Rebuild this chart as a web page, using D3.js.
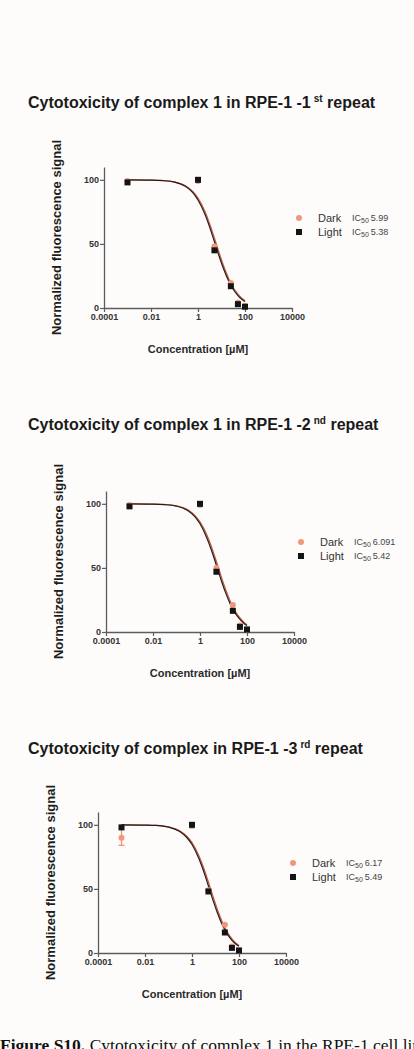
<!DOCTYPE html>
<html>
<head>
<meta charset="utf-8">
<script src="https://cdn.jsdelivr.net/npm/d3@7"></script>
<style>
  html, body { margin: 0; padding: 0; background: #fdfcfa; }
  svg { display: block; }
</style>
</head>
<body>
<div id="chart"></div>
<script>
// Measured concentrations (µM) and normalized signals per repeat
const concentrations = [0.001, 1, 5, 25, 50, 100];

const lightRep1 = [98, 100, 45, 17, 3, 1];
const darkRep1  = [99, 99, 48, 19.5, 4, 1.5];
const lightRep2 = [98, 100, 47, 16.5, 4, 2];
const darkRep2  = [99, 99, 50, 21, 5, 2];
const lightRep3 = [98, 100, 48, 16, 4, 2];
const darkRep3  = [90, 99, 49, 22, 5, 2];
const darkRep3Err = [6, 0, 0, 0, 0, 0];

// Fitted dose-response curves
const curveConc = [0.001, 0.01, 0.03, 0.1, 0.3, 0.6, 1, 2, 3, 5, 8, 12, 20, 30, 50, 75, 100];
const curveLight1 = [100, 99.8, 99.4, 98.2, 94.7, 90.0, 84.3, 72.9, 64.2, 51.8, 40.2, 31.0, 21.2, 15.2, 9.7, 6.7, 5.1];
const curveDark1  = [100, 99.8, 99.5, 98.4, 95.2, 90.9, 85.7, 75.0, 66.6, 54.5, 42.8, 33.3, 23.0, 16.6, 10.7, 7.4, 5.6];
const curveLight2 = [100, 99.8, 99.4, 98.2, 94.8, 90.0, 84.4, 73.0, 64.4, 52.0, 40.4, 31.1, 21.3, 15.3, 9.8, 6.7, 5.1];
const curveDark2  = [100, 99.8, 99.5, 98.4, 95.3, 91.0, 85.9, 75.3, 67.0, 54.9, 43.2, 33.7, 23.3, 16.9, 10.9, 7.5, 5.7];
const curveLight3 = [100, 99.8, 99.5, 98.2, 94.8, 90.1, 84.6, 73.3, 64.7, 52.3, 40.7, 31.4, 21.5, 15.5, 9.9, 6.8, 5.2];
const curveDark3  = [100, 99.8, 99.5, 98.4, 95.4, 91.1, 86.1, 75.5, 67.3, 55.2, 43.5, 34.0, 23.6, 17.1, 11.0, 7.6, 5.8];

const xTicks = [0.0001, 0.01, 1, 100, 10000];
const xTickLabels = ['0.0001', '0.01', '1', '100', '10000'];
const yTicks = [0, 50, 100];

const titles = [
  { main: 'Cytotoxicity of complex 1 in RPE-1 -1', sup: 'st', tail: ' repeat' },
  { main: 'Cytotoxicity of complex 1 in RPE-1 -2', sup: 'nd', tail: ' repeat' },
  { main: 'Cytotoxicity of complex in RPE-1 -3', sup: 'rd', tail: ' repeat' }
];
const ic50Dark = ['5.99', '6.091', '6.17'];
const ic50Light = ['5.38', '5.42', '5.49'];

const width = 414;
const height = 1049;
const darkColor = '#f2967c';
const darkLine = '#c65a44';
const lightColor = '#141414';
const axisColor = '#5c5c5c';
const font = "'Liberation Sans', Arial, sans-serif";

const svg = d3.select('#chart').append('svg')
  .attr('width', width)
  .attr('height', height)
  .style('font-family', font);

svg.append('rect').attr('width', width).attr('height', height).attr('fill', '#fdfcfa');

// per panel layout: origin of the axes, title baseline, y-label x
const panels = [
  { ox: 104, oy: 308, titleY: 108, light: lightRep1, dark: darkRep1, err: null, cL: curveLight1, cD: curveDark1 },
  { ox: 106, oy: 632, titleY: 430, light: lightRep2, dark: darkRep2, err: null, cL: curveLight2, cD: curveDark2 },
  { ox: 98, oy: 953, titleY: 754, light: lightRep3, dark: darkRep3, err: darkRep3Err, cL: curveLight3, cD: curveDark3 }
];

panels.forEach((p, i) => {
  const innerW = 188;
  const innerH = 141;

  // Title
  const t = svg.append('text')
    .attr('x', 28)
    .attr('y', p.titleY)
    .attr('font-size', '16px')
    .attr('font-weight', 'bold')
    .attr('fill', '#1a1a1a');
  t.append('tspan').text(titles[i].main);
  t.append('tspan').attr('dx', 3).attr('dy', -6).attr('font-size', '10px').text(titles[i].sup);
  t.append('tspan').attr('dy', 6).text(titles[i].tail);

  const g = svg.append('g').attr('transform', `translate(${p.ox},${p.oy - innerH})`);

  const x = d3.scaleLog().domain([0.0001, 10000]).range([0, innerW]);
  const y = d3.scaleLinear().domain([0, 110]).range([innerH, 0]);

  // Axes
  g.append('g')
    .attr('transform', `translate(0,${innerH})`)
    .call(d3.axisBottom(x).tickValues(xTicks).tickFormat((d, k) => xTickLabels[k]).tickSize(4).tickSizeOuter(0).tickPadding(2))
    .call(a => a.select('.domain').attr('stroke', axisColor).attr('stroke-width', 1.3))
    .call(a => a.selectAll('.tick line').attr('stroke', axisColor).attr('stroke-width', 1.2))
    .call(a => a.selectAll('.tick text')
      .attr('font-family', font).attr('font-size', '9px').attr('font-weight', 'bold').attr('fill', '#333'));

  g.append('g')
    .call(d3.axisLeft(y).tickValues(yTicks).tickSize(4).tickSizeOuter(0).tickPadding(1))
    .call(a => a.select('.domain').attr('stroke', axisColor).attr('stroke-width', 1.3))
    .call(a => a.selectAll('.tick line').attr('stroke', axisColor).attr('stroke-width', 1.2))
    .call(a => a.selectAll('.tick text')
      .attr('font-family', font).attr('font-size', '9px').attr('font-weight', 'bold').attr('fill', '#333'));

  // Axis titles
  g.append('text')
    .attr('x', x(1))
    .attr('y', innerH + 45)
    .attr('text-anchor', 'middle')
    .attr('font-size', '11px')
    .attr('font-weight', 'bold')
    .attr('fill', '#2a2a2a')
    .text('Concentration [\u00b5M]');

  g.append('text')
    .attr('transform', `translate(-43,${innerH / 2}) rotate(-90)`)
    .attr('text-anchor', 'middle')
    .attr('font-size', '13px')
    .attr('font-weight', 'bold')
    .attr('fill', '#1e1e1e')
    .text('Normalized fluorescence signal');

  // Fitted curves
  const line = d3.line().x(d => x(d[0])).y(d => y(d[1])).curve(d3.curveMonotoneX);
  g.append('path')
    .datum(curveConc.map((c, k) => [c, p.cD[k]]))
    .attr('fill', 'none')
    .attr('stroke', darkLine)
    .attr('stroke-width', 1.3)
    .attr('d', line);
  g.append('path')
    .datum(curveConc.map((c, k) => [c, p.cL[k]]))
    .attr('fill', 'none')
    .attr('stroke', '#2a1c1c')
    .attr('stroke-width', 1.2)
    .attr('d', line);

  // Dark points (with error bars when present)
  if (p.err) {
    concentrations.forEach((c, k) => {
      if (!p.err[k]) return;
      const cx = x(c);
      g.append('line').attr('x1', cx).attr('x2', cx)
        .attr('y1', y(p.dark[k] - p.err[k])).attr('y2', y(p.dark[k] + p.err[k]))
        .attr('stroke', darkColor).attr('stroke-width', 1.3);
      g.append('line').attr('x1', cx - 3).attr('x2', cx + 3)
        .attr('y1', y(p.dark[k] - p.err[k])).attr('y2', y(p.dark[k] - p.err[k]))
        .attr('stroke', darkColor).attr('stroke-width', 1.3);
    });
  }
  g.selectAll('.dark')
    .data(concentrations.map((c, k) => [c, p.dark[k]]))
    .join('circle')
    .attr('cx', d => x(d[0]))
    .attr('cy', d => y(d[1]))
    .attr('r', 3)
    .attr('fill', darkColor);

  // Light points
  g.selectAll('.light')
    .data(concentrations.map((c, k) => [c, p.light[k]]))
    .join('rect')
    .attr('x', d => x(d[0]) - 3)
    .attr('y', d => y(d[1]) - 3)
    .attr('width', 6)
    .attr('height', 6)
    .attr('fill', lightColor);

  // Legend
  const lg = g.append('g').attr('transform', `translate(195,${innerH - 90})`);
  lg.append('circle').attr('r', 3).attr('fill', darkColor);
  lg.append('rect').attr('x', -3).attr('y', 11).attr('width', 6).attr('height', 6).attr('fill', lightColor);

  [['Dark', ic50Dark[i]], ['Light', ic50Light[i]]].forEach(([name, ic], k) => {
    lg.append('text')
      .attr('x', 19).attr('y', k * 14 + 4)
      .attr('font-size', '11px').attr('fill', '#333')
      .text(name);
    const it = lg.append('text')
      .attr('x', 53).attr('y', k * 14 + 3)
      .attr('font-size', '9px').attr('fill', '#444');
    it.append('tspan').text('IC');
    it.append('tspan').attr('dy', 2).attr('font-size', '7px').text('50');
    it.append('tspan').attr('dy', -2).attr('dx', 2).text(ic);
  });
});

// Caption peeking in at the bottom
const cap = svg.append('text')
  .attr('x', 0)
  .attr('y', 1051)
  .attr('font-family', "'Liberation Serif', 'Times New Roman', serif")
  .attr('font-size', '17.5px')
  .attr('fill', '#111');
cap.append('tspan').attr('font-weight', 'bold').text('Figure S10.');
cap.append('tspan').text(' Cytotoxicity of complex 1 in the RPE-1 cell line');
</script>
</body>
</html>
